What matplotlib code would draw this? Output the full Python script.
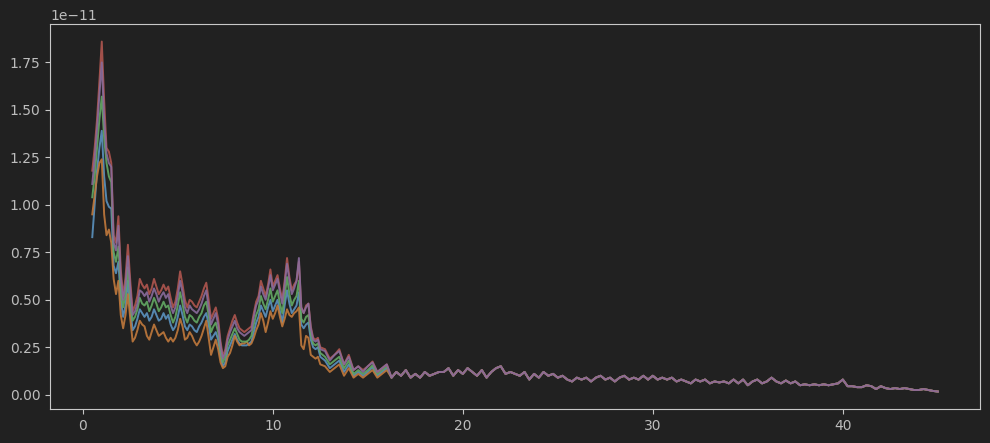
import numpy as np
import matplotlib
matplotlib.use('Agg')
import matplotlib.pyplot as plt

# PSD of 5 channels, values in units of 1e-11
# head: 0.5 .. 12.5 Hz, 0.125 Hz step (rows of 1 Hz)
red_head = [1.18, 1.30, 1.45, 1.65, 1.86, 1.55, 1.30, 1.28,
            1.22, 0.84, 0.80, 0.94, 0.66, 0.52, 0.62, 0.79,
            0.60, 0.44, 0.47, 0.52, 0.61, 0.58, 0.56, 0.58,
            0.53, 0.56, 0.61, 0.57, 0.53, 0.55, 0.58, 0.55,
            0.57, 0.51, 0.46, 0.49, 0.56, 0.65, 0.58, 0.50,
            0.46, 0.50, 0.49, 0.47, 0.46, 0.49, 0.52, 0.56,
            0.59, 0.50, 0.40, 0.43, 0.46, 0.40, 0.28, 0.20,
            0.24, 0.31, 0.35, 0.39, 0.42, 0.38, 0.35, 0.34,
            0.33, 0.34, 0.35, 0.36, 0.43, 0.49, 0.52, 0.60,
            0.56, 0.52, 0.58, 0.66, 0.57, 0.60, 0.63, 0.56,
            0.50, 0.60, 0.72, 0.62, 0.55, 0.58, 0.60, 0.70,
            0.46, 0.43, 0.47, 0.48, 0.36, 0.30, 0.29, 0.30,
            0.25]
purple_head = [1.11, 1.24, 1.40, 1.58, 1.75, 1.45, 1.27, 1.22,
               1.20, 0.80, 0.76, 0.89, 0.62, 0.50, 0.58, 0.73,
               0.56, 0.42, 0.44, 0.48, 0.55, 0.54, 0.52, 0.54,
               0.49, 0.52, 0.56, 0.53, 0.49, 0.52, 0.54, 0.51,
               0.53, 0.47, 0.43, 0.46, 0.52, 0.60, 0.54, 0.46,
               0.43, 0.47, 0.45, 0.44, 0.43, 0.45, 0.48, 0.52,
               0.55, 0.46, 0.37, 0.40, 0.43, 0.37, 0.26, 0.19,
               0.22, 0.29, 0.33, 0.36, 0.39, 0.35, 0.33, 0.32,
               0.31, 0.32, 0.33, 0.34, 0.41, 0.47, 0.50, 0.57,
               0.53, 0.50, 0.56, 0.63, 0.55, 0.58, 0.61, 0.54,
               0.48, 0.58, 0.69, 0.60, 0.53, 0.56, 0.60, 0.72,
               0.46, 0.43, 0.46, 0.48, 0.35, 0.29, 0.28, 0.29,
               0.24]
green_head = [1.04, 1.15, 1.30, 1.45, 1.57, 1.35, 1.22, 1.15,
              1.12, 0.75, 0.70, 0.78, 0.56, 0.46, 0.53, 0.67,
              0.50, 0.39, 0.41, 0.45, 0.51, 0.48, 0.47, 0.49,
              0.44, 0.47, 0.51, 0.48, 0.44, 0.46, 0.49, 0.46,
              0.47, 0.42, 0.38, 0.41, 0.47, 0.54, 0.48, 0.41,
              0.38, 0.42, 0.41, 0.39, 0.38, 0.41, 0.43, 0.47,
              0.49, 0.42, 0.33, 0.36, 0.38, 0.33, 0.23, 0.17,
              0.20, 0.26, 0.29, 0.32, 0.35, 0.32, 0.29, 0.28,
              0.28, 0.28, 0.29, 0.31, 0.37, 0.42, 0.45, 0.52,
              0.48, 0.45, 0.50, 0.56, 0.49, 0.52, 0.55, 0.48,
              0.43, 0.52, 0.62, 0.53, 0.47, 0.50, 0.52, 0.60,
              0.40, 0.38, 0.41, 0.42, 0.32, 0.27, 0.26, 0.27,
              0.22]
blue_head = [0.83, 1.00, 1.18, 1.30, 1.39, 1.15, 1.02, 0.99,
             0.98, 0.68, 0.64, 0.70, 0.50, 0.41, 0.47, 0.60,
             0.45, 0.34, 0.36, 0.40, 0.45, 0.43, 0.41, 0.43,
             0.39, 0.41, 0.45, 0.42, 0.39, 0.40, 0.43, 0.40,
             0.42, 0.37, 0.34, 0.36, 0.41, 0.47, 0.42, 0.36,
             0.34, 0.37, 0.36, 0.34, 0.33, 0.36, 0.38, 0.41,
             0.43, 0.37, 0.29, 0.31, 0.33, 0.29, 0.20, 0.15,
             0.17, 0.23, 0.26, 0.29, 0.32, 0.29, 0.27, 0.26,
             0.26, 0.26, 0.27, 0.28, 0.33, 0.38, 0.41, 0.47,
             0.44, 0.41, 0.46, 0.50, 0.44, 0.47, 0.50, 0.44,
             0.38, 0.47, 0.55, 0.48, 0.43, 0.45, 0.47, 0.54,
             0.37, 0.35, 0.37, 0.38, 0.29, 0.25, 0.24, 0.25,
             0.20]
orange_head = [0.95, 1.05, 1.15, 1.22, 1.24, 0.95, 0.84, 0.87,
               0.80, 0.61, 0.53, 0.60, 0.42, 0.35, 0.42, 0.53,
               0.40, 0.28, 0.30, 0.34, 0.39, 0.37, 0.36, 0.31,
               0.29, 0.33, 0.37, 0.34, 0.31, 0.32, 0.33, 0.30,
               0.28, 0.30, 0.28, 0.30, 0.34, 0.40, 0.36, 0.29,
               0.30, 0.33, 0.31, 0.28, 0.26, 0.28, 0.31, 0.35,
               0.39, 0.30, 0.21, 0.25, 0.29, 0.24, 0.17, 0.14,
               0.15, 0.20, 0.22, 0.26, 0.31, 0.28, 0.26, 0.27,
               0.27, 0.28, 0.26, 0.27, 0.30, 0.34, 0.37, 0.43,
               0.39, 0.33, 0.38, 0.44, 0.40, 0.43, 0.47, 0.41,
               0.36, 0.40, 0.45, 0.42, 0.41, 0.43, 0.44, 0.46,
               0.26, 0.24, 0.31, 0.30, 0.21, 0.20, 0.19, 0.20,
               0.16]

# mid: 12.75 .. 16 Hz, 0.25 Hz step, channels still slightly apart
red_mid = [0.24, 0.19, 0.21, 0.24, 0.16, 0.21, 0.13, 0.15, 0.13, 0.15, 0.175, 0.12, 0.14, 0.16]
purple_mid = [0.23, 0.18, 0.21, 0.23, 0.16, 0.20, 0.13, 0.15, 0.12, 0.15, 0.17, 0.12, 0.14, 0.16]
green_mid = [0.20, 0.16, 0.18, 0.20, 0.14, 0.18, 0.11, 0.13, 0.11, 0.13, 0.155, 0.11, 0.13, 0.15]
blue_mid = [0.18, 0.14, 0.16, 0.18, 0.12, 0.16, 0.10, 0.12, 0.10, 0.12, 0.145, 0.10, 0.12, 0.14]
orange_mid = [0.15, 0.12, 0.14, 0.16, 0.10, 0.14, 0.09, 0.11, 0.09, 0.11, 0.13, 0.09, 0.11, 0.13]

# tail: 16.25 .. 45 Hz, 0.25 Hz step, channels overlap here
tail = [0.09, 0.12,
        0.10, 0.13, 0.09, 0.11, 0.09, 0.12, 0.10, 0.11,
        0.12, 0.12, 0.14, 0.10, 0.13, 0.11, 0.14, 0.12,
        0.10, 0.13, 0.09, 0.12, 0.14, 0.15, 0.11, 0.12,
        0.11, 0.10, 0.12, 0.08, 0.11, 0.09, 0.12, 0.10,
        0.11, 0.09, 0.10, 0.08, 0.07, 0.09, 0.08, 0.09,
        0.07, 0.09, 0.10, 0.08, 0.09, 0.07, 0.09, 0.10,
        0.08, 0.09, 0.08, 0.10, 0.08, 0.10, 0.08, 0.09,
        0.08, 0.09, 0.07, 0.08, 0.07, 0.06, 0.08, 0.07,
        0.08, 0.06, 0.07, 0.065, 0.07, 0.06, 0.08, 0.06,
        0.08, 0.05, 0.07, 0.08, 0.06, 0.07, 0.09, 0.07,
        0.06, 0.075, 0.06, 0.07, 0.05, 0.055, 0.05, 0.055,
        0.05, 0.055, 0.05, 0.055, 0.06, 0.08, 0.045, 0.045,
        0.04, 0.04, 0.05, 0.045, 0.03, 0.045, 0.035, 0.03,
        0.035, 0.03, 0.035, 0.03, 0.025, 0.025, 0.03, 0.025,
        0.02, 0.017]

heads = [blue_head, orange_head, green_head, red_head, purple_head]
mids = [blue_mid, orange_mid, green_mid, red_mid, purple_mid]
colors = ['#5b93c0', '#c27a3c', '#63a964', '#b0564f', '#8a6c9c']

x_head = 0.5 + 0.125 * np.arange(len(red_head))
x_mid = 12.75 + 0.25 * np.arange(len(red_mid))
x_tail = 16.25 + 0.25 * np.arange(len(tail))
freqs = np.concatenate([x_head, x_mid, x_tail])

bg = '#212121'
fg = '#c8c8c8'
fig = plt.figure(figsize=(9.9, 4.43), dpi=100, facecolor=bg)
ax = fig.add_axes([0.0505, 0.0767, 0.9395, 0.869], facecolor=bg)

for head, mid, c in zip(heads, mids, colors):
    psd = np.concatenate([head, mid, tail]) * 1e-11
    ax.plot(freqs, psd, color=c, lw=1.4, alpha=0.9)

for s in ax.spines.values():
    s.set_color(fg)
    s.set_linewidth(0.8)
ax.tick_params(colors=fg, labelcolor='#bdbdbd', labelsize=10)
ax.yaxis.get_offset_text().set_color('#bdbdbd')
ax.set_yticks(np.arange(0, 1.76, 0.25) * 1e-11)

fig.savefig('out.png', dpi=100, facecolor=bg)
